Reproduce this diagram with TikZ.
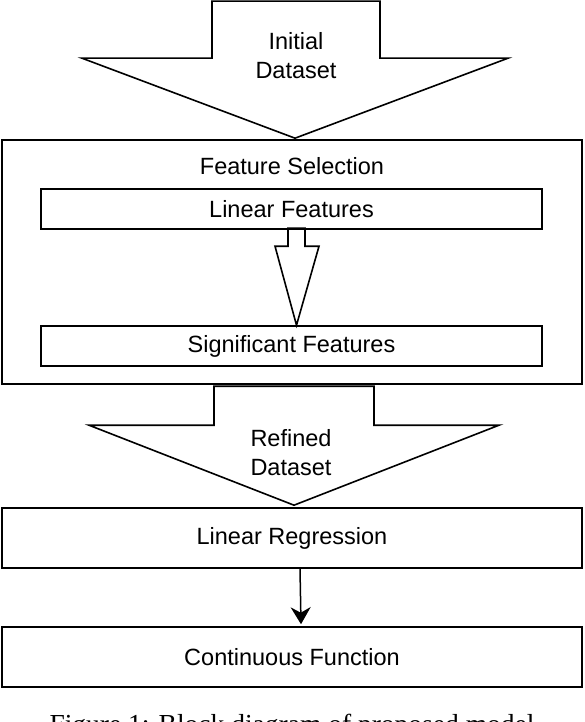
\documentclass[tikz,border=0pt]{standalone}
\usepackage{fontspec}
\setmainfont{Liberation Serif}
\setsansfont{Liberation Sans}
\usetikzlibrary{arrows.meta,calc}

\begin{document}
\begin{tikzpicture}[x=1pt,y=-1pt,line width=1.6pt,
  blockbox/.style={draw,inner sep=0pt,font=\sffamily\fontsize{23.5}{29}\selectfont,align=center},
  lbl/.style={inner sep=0pt,font=\sffamily\fontsize{23.5}{29}\selectfont,align=center},
  blockarrow/.style={draw,line join=miter},
  figcap/.style={inner sep=0pt,font=\fontsize{27.5}{33}\selectfont}]
  \useasboundingbox (0,0) rectangle (584,722);
  \clip (0,0) rectangle (584,722);
  \node[blockbox,minimum width=580pt,minimum height=244pt] (fsbox) at (292,262) {};
  \node[lbl] (fstitle) at (292,166) {Feature Selection};
  \node[blockbox,minimum width=501pt,minimum height=40pt] (lin) at (291.5,209) {Linear Features};
  \node[blockbox,minimum width=501pt,minimum height=40pt] (sig) at (291.5,346) {Significant Features};
  \node[blockbox,minimum width=580pt,minimum height=60pt] (lr) at (292,538) {Linear Regression};
  \node[blockbox,minimum width=580pt,minimum height=60pt] (cf) at (292,657) {Continuous Function};
  \coordinate (dataTip) at ($(fsbox.north)+(3,-1)$);
  \coordinate (selTip) at ($(sig.north)+(5,0)$);
  \coordinate (refTip) at ($(lr.north)+(2,-2)$);
  \draw[blockarrow] ($(dataTip)+(-83,-137)$) -- ++(168,0) -- ++(0,57) -- ++(128,0) -- (dataTip)
    -- ($(dataTip)+(-213,-80)$) -- ++(130,0) -- cycle;
  \draw[blockarrow] ($(selTip)+(-8.5,-97)$) -- ++(17,0) -- ++(0,18) -- ++(14,0) -- (selTip)
    -- ($(selTip)+(-21.5,-79)$) -- ++(13,0) -- cycle;
  \draw[blockarrow] ($(refTip)+(-80,-119)$) -- ++(160,0) -- ++(0,39) -- ++(125,0) -- (refTip)
    -- ($(refTip)+(-205,-80)$) -- ++(125,0) -- cycle;
  \node[lbl] (initial) at (296,55.5) {Initial\\Dataset};
  \node[lbl] (refined) at (291,452.5) {Refined\\Dataset};
  \draw[-{Stealth[length=17pt,width=20pt]},line width=1.5pt] ($(lr.south)+(8,0)$) -- ($(cf.north)+(9,-2)$);
  \node[figcap,anchor=base] (cap) at (292,733) {Figure 1: Block diagram of proposed model};
\end{tikzpicture}
\end{document}
